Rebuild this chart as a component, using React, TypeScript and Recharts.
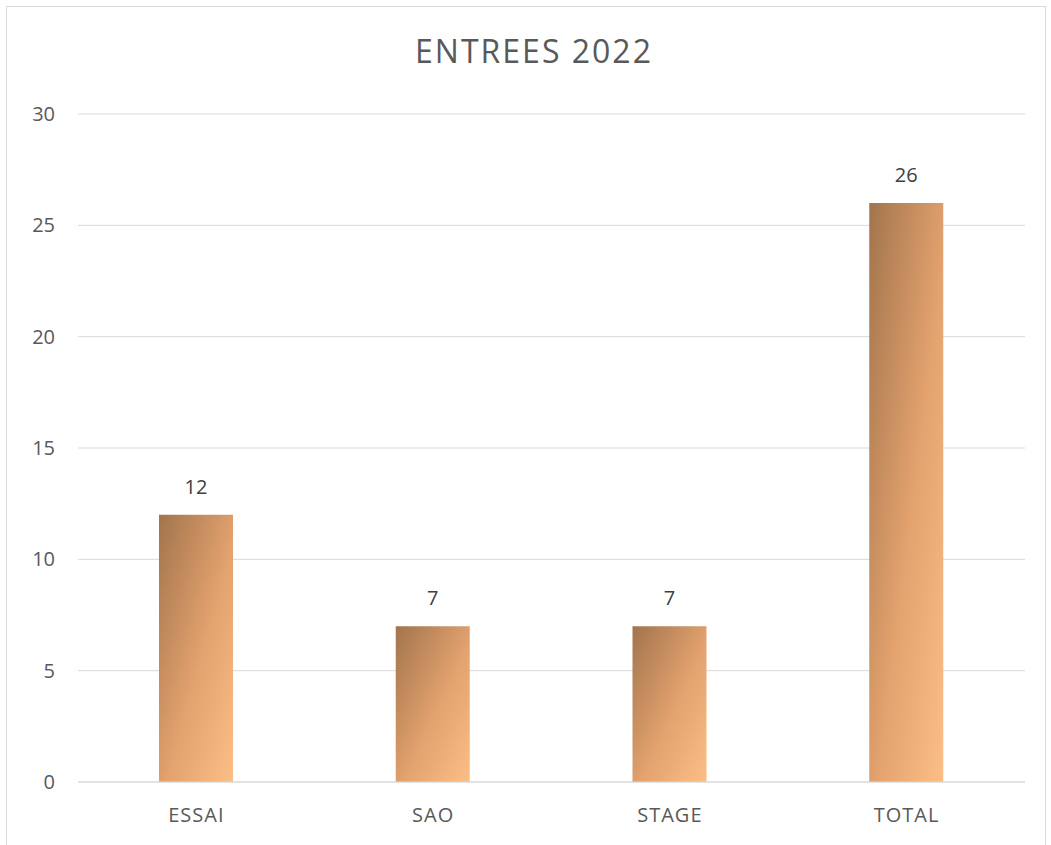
import { Bar, BarChart, CartesianGrid, LabelList, XAxis, YAxis } from "recharts";

const categories = ["ESSAI", "SAO", "STAGE", "TOTAL"];
const entrees = [12, 7, 7, 26];
const yTicks = [0, 5, 10, 15, 20, 25, 30];

const data = categories.map((name, i) => ({ name, value: entrees[i] }));

const font = "'Open Sans', 'Liberation Sans', sans-serif";

export default function App() {
  return (
    <div style={{ position: "fixed", left: 0, top: 0, width: 1051, height: 845, background: "#fff", fontFamily: font }}>
      <div
        style={{
          position: "absolute",
          left: 6,
          top: 6,
          width: 1040,
          height: 845,
          border: "1px solid #d9d9d9",
          boxSizing: "border-box",
        }}
      />
      <div
        style={{
          position: "absolute",
          left: 0,
          width: 1068,
          top: 29,
          lineHeight: "44px",
          textAlign: "center",
          fontSize: 32,
          color: "#595959",
          letterSpacing: 2,
        }}
      >
        ENTREES 2022
      </div>
      <div style={{ position: "absolute", left: 0, top: 0 }}>
        <BarChart width={1051} height={845} data={data} margin={{ top: 114, right: 26, left: 38, bottom: 23 }}>
          <defs>
            <linearGradient id="barGrad" x1="0" y1="0" x2="1" y2="1">
              <stop offset="0%" stopColor="#a2744d" />
              <stop offset="55%" stopColor="#e3a26e" />
              <stop offset="100%" stopColor="#fcbe87" />
            </linearGradient>
          </defs>
          <CartesianGrid stroke="#d9d9d9" vertical={false} />
          <XAxis
            dataKey="name"
            height={40}
            axisLine={{ stroke: "#d9d9d9" }}
            tickLine={false}
            tickSize={0}
            tickMargin={26}
            tick={{ fill: "#595959", fontSize: 20, fontFamily: font, letterSpacing: 1 }}
          />
          <YAxis
            width={40}
            domain={[0, 30]}
            ticks={yTicks}
            axisLine={false}
            tickLine={false}
            tickSize={0}
            tickMargin={23}
            tick={{ fill: "#595959", fontSize: 20, fontFamily: font }}
          />
          <Bar dataKey="value" fill="url(#barGrad)" barSize={74} isAnimationActive={false}>
            <LabelList dataKey="value" position="top" offset={21} fill="#404040" fontSize={20} fontFamily={font} />
          </Bar>
        </BarChart>
      </div>
    </div>
  );
}
